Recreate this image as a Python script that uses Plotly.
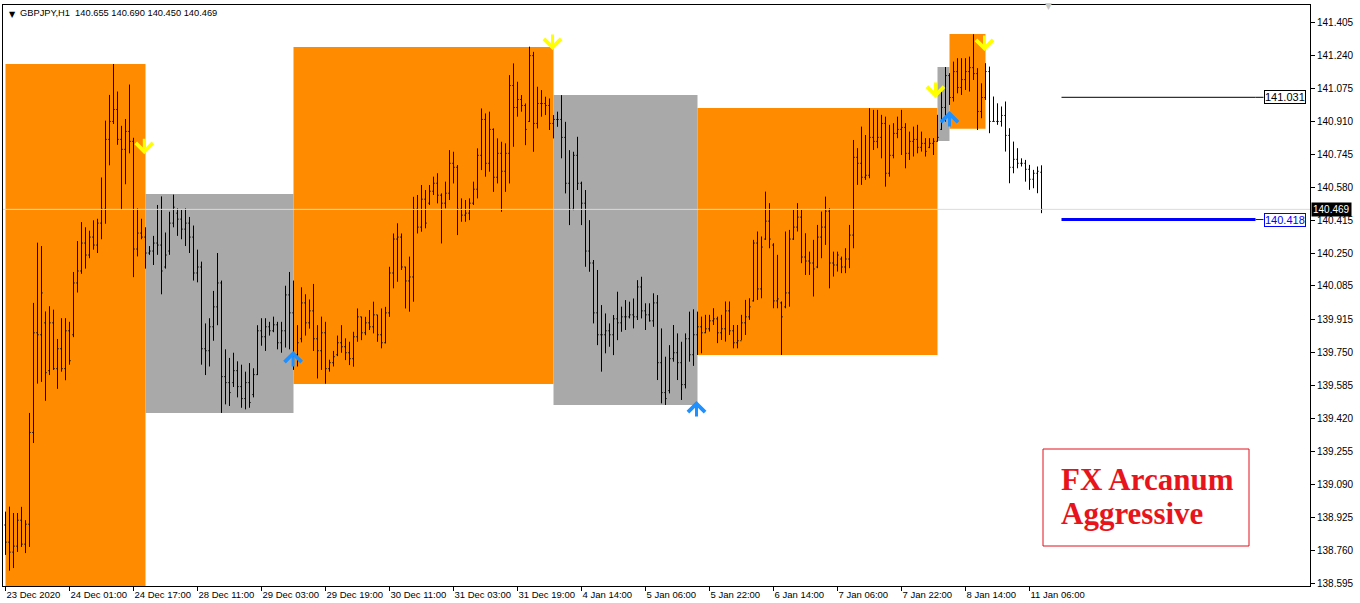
import plotly.graph_objects as go

# ---------------- data ----------------
symbol_label = "GBPJPY,H1"

open_ = [
    138.886, 138.80, 138.75, 138.78, 138.91, 138.79, 138.89, 139.35, 139.85, 139.84,
    139.90, 139.66, 139.90, 139.67, 139.77, 139.67, 139.86, 139.84, 140.10, 140.16,
    140.30, 140.24, 140.33, 140.29, 140.40, 140.47, 140.82, 140.91, 140.97, 140.82,
    140.77, 140.86, 140.81, 140.27, 140.35, 140.33, 140.25, 140.26, 140.30, 140.29,
    140.18, 140.26, 140.40, 140.45, 140.42, 140.37, 140.40, 140.33, 140.15, 140.18,
    139.77, 139.76, 139.88, 139.98, 140.10, 139.63, 139.60, 139.60, 139.66, 139.58,
    139.52, 139.60, 139.54, 139.64, 139.86, 139.83, 139.88, 139.86, 139.89, 139.80,
    139.86, 140.04, 139.95, 139.74, 139.82, 140.00, 139.90, 139.96, 139.82, 139.76,
    139.85, 139.67, 139.70, 139.74, 139.80, 139.78, 139.75, 139.72, 139.83, 139.93,
    139.85, 139.90, 139.88, 139.94, 139.84, 139.80, 139.95, 140.15, 140.32, 140.33,
    140.18, 140.11, 140.13, 140.47, 140.38, 140.52, 140.50, 140.56, 140.60, 140.54,
    140.50, 140.55, 140.70, 140.68, 140.47, 140.44, 140.45, 140.50, 140.57, 140.74,
    140.92, 140.70, 140.87, 140.63, 140.75, 140.66, 140.75, 141.09, 140.98, 141.02,
    140.99, 140.91, 141.24, 140.90, 141.00, 141.00, 140.99, 140.90, 140.92, 140.92,
    140.83, 140.60, 140.47, 140.74, 140.60, 140.50, 140.26, 140.20, 139.95, 139.84,
    139.84, 139.86, 139.84, 139.92, 139.90, 139.93, 139.93, 139.94, 139.93, 140.08,
    139.96, 139.94, 139.91, 140.00, 139.70, 139.55, 139.56, 139.72, 139.75, 139.70,
    139.59, 139.82, 139.74, 139.84, 139.88, 139.85, 139.87, 139.91, 139.92, 139.85,
    139.87, 139.96, 139.86, 139.80, 139.81, 139.90, 139.93, 140.01, 140.30, 140.07,
    140.32, 140.41, 140.29, 140.01, 140.00, 139.98, 140.05, 140.32, 140.38, 140.43,
    140.23, 140.21, 140.20, 140.18, 140.33, 140.38, 140.46, 140.20, 140.19, 140.22,
    140.18, 140.22, 140.34, 140.73, 140.70, 140.63, 140.64, 140.83, 140.81, 140.83,
    140.90, 140.65, 140.74, 140.85, 140.87, 140.88, 140.75, 140.81, 140.82, 140.78,
    140.80, 140.78, 140.80, 140.81, 140.87, 140.98, 141.14, 141.03, 141.16, 141.08,
    141.12, 141.16, 141.18, 141.15, 140.96, 141.03, 141.16, 140.91, 140.91, 140.91,
    140.94, 140.84, 140.68, 140.72, 140.70, 140.70, 140.67, 140.62, 140.65, 140.655,
]

high = [
    138.953, 138.978, 138.946, 138.946, 138.977, 138.910, 139.448, 140.000, 140.302, 140.285,
    139.957, 139.983, 139.966, 139.819, 139.923, 139.923, 139.905, 140.155, 140.310, 140.405,
    140.379, 140.362, 140.414, 140.422, 140.629, 140.914, 141.043, 141.198, 141.060, 140.888,
    140.922, 141.095, 140.828, 140.474, 140.422, 140.379, 140.285, 140.336, 140.491, 140.534,
    140.353, 140.457, 140.543, 140.474, 140.466, 140.474, 140.431, 140.388, 140.267, 140.207,
    139.897, 139.923, 140.060, 140.250, 140.112, 139.767, 139.724, 139.750, 139.707, 139.690,
    139.655, 139.698, 139.672, 139.888, 139.923, 139.923, 139.905, 139.931, 139.905, 139.905,
    140.086, 140.155, 140.112, 139.888, 140.078, 140.043, 140.017, 140.095, 139.888, 139.931,
    139.905, 139.715, 139.759, 139.836, 139.888, 139.822, 139.805, 139.855, 139.972, 139.930,
    139.930, 139.964, 140.006, 139.939, 139.972, 139.980, 140.181, 140.348, 140.399, 140.348,
    140.181, 140.232, 140.532, 140.541, 140.591, 140.566, 140.591, 140.633, 140.650, 140.549,
    140.608, 140.766, 140.758, 140.691, 140.524, 140.516, 140.524, 140.608, 140.775, 140.975,
    140.950, 140.959, 140.875, 140.825, 140.808, 140.800, 141.142, 141.201, 141.109, 141.042,
    141.000, 141.285, 141.259, 141.084, 141.067, 141.034, 141.025, 140.942, 140.959, 141.042,
    140.908, 140.766, 140.758, 140.833, 140.608, 140.566, 140.415, 140.215, 140.165, 139.989,
    139.947, 139.897, 139.939, 140.056, 139.981, 140.014, 140.006, 140.022, 140.114, 140.131,
    139.998, 139.998, 140.048, 140.039, 139.872, 139.730, 139.788, 139.889, 139.847, 139.805,
    139.847, 139.956, 139.968, 139.956, 139.931, 139.940, 139.940, 139.973, 139.931, 139.940,
    140.007, 140.007, 139.889, 139.889, 139.940, 140.015, 140.023, 140.316, 140.358, 140.333,
    140.558, 140.500, 140.299, 140.241, 140.007, 140.358, 140.366, 140.466, 140.500, 140.466,
    140.349, 140.257, 140.316, 140.391, 140.458, 140.533, 140.475, 140.257, 140.257, 140.232,
    140.274, 140.391, 140.817, 140.776, 140.884, 140.842, 140.976, 140.968, 140.968, 140.943,
    140.934, 140.893, 140.901, 140.934, 140.968, 140.901, 140.859, 140.884, 140.893, 140.859,
    140.826, 140.826, 140.826, 140.943, 141.060, 141.183, 141.152, 141.210, 141.227, 141.227,
    141.227, 141.235, 141.347, 141.177, 141.101, 141.202, 141.185, 141.035, 141.001, 140.985,
    141.010, 140.876, 140.809, 140.776, 140.725, 140.717, 140.692, 140.667, 140.684, 140.690,
]

low = [
    138.736, 138.657, 138.670, 138.751, 138.776, 138.745, 138.776, 139.297, 139.595, 139.604,
    139.509, 139.638, 139.664, 139.569, 139.655, 139.612, 139.690, 139.828, 140.052, 140.146,
    140.172, 140.224, 140.267, 140.250, 140.319, 140.397, 140.690, 140.897, 140.793, 140.466,
    140.595, 140.750, 140.129, 140.233, 140.319, 140.172, 140.241, 140.190, 140.241, 140.043,
    140.172, 140.241, 140.379, 140.336, 140.319, 140.285, 140.250, 140.112, 140.103, 139.690,
    139.638, 139.681, 139.810, 139.888, 139.448, 139.491, 139.483, 139.578, 139.526, 139.474,
    139.466, 139.474, 139.526, 139.638, 139.785, 139.759, 139.836, 139.853, 139.767, 139.750,
    139.776, 139.767, 139.664, 139.681, 139.802, 139.836, 139.871, 139.759, 139.621, 139.664,
    139.595, 139.655, 139.681, 139.733, 139.750, 139.713, 139.688, 139.680, 139.805, 139.813,
    139.838, 139.864, 139.847, 139.805, 139.772, 139.797, 139.930, 140.073, 140.106, 140.165,
    139.972, 139.956, 140.006, 140.348, 140.357, 140.374, 140.491, 140.541, 140.499, 140.298,
    140.474, 140.516, 140.599, 140.340, 140.407, 140.407, 140.415, 140.491, 140.524, 140.666,
    140.633, 140.658, 140.557, 140.599, 140.457, 140.557, 140.599, 140.783, 140.934, 140.959,
    140.791, 140.908, 140.758, 140.875, 140.934, 140.942, 140.867, 140.825, 140.883, 140.725,
    140.549, 140.390, 140.465, 140.566, 140.390, 140.181, 140.156, 139.897, 139.788, 139.655,
    139.747, 139.780, 139.738, 139.813, 139.855, 139.864, 139.922, 139.872, 139.914, 139.922,
    139.864, 139.906, 139.880, 139.613, 139.496, 139.488, 139.546, 139.705, 139.613, 139.513,
    139.571, 139.705, 139.684, 139.739, 139.747, 139.848, 139.856, 139.889, 139.798, 139.814,
    139.806, 139.839, 139.772, 139.772, 139.814, 139.839, 139.915, 140.007, 140.015, 140.023,
    140.316, 140.274, 139.973, 139.973, 139.739, 139.973, 139.981, 140.316, 140.358, 140.199,
    140.140, 140.140, 140.032, 140.174, 140.224, 140.291, 140.073, 140.132, 140.157, 140.149,
    140.149, 140.174, 140.274, 140.592, 140.592, 140.617, 140.625, 140.767, 140.776, 140.725,
    140.583, 140.633, 140.725, 140.826, 140.742, 140.675, 140.717, 140.734, 140.750, 140.759,
    140.734, 140.776, 140.742, 140.809, 140.867, 140.909, 140.993, 141.010, 141.051, 141.043,
    141.068, 141.060, 141.118, 140.867, 140.926, 141.018, 140.851, 140.909, 140.893, 140.884,
    140.759, 140.600, 140.650, 140.675, 140.684, 140.608, 140.567, 140.575, 140.550, 140.450,
]

close = [
    138.80, 138.75, 138.78, 138.91, 138.79, 138.89, 139.35, 139.85, 139.84, 140.05,
    139.65, 139.90, 139.67, 139.77, 139.67, 139.86, 139.71, 140.10, 140.16, 140.30,
    140.24, 140.33, 140.29, 140.40, 140.47, 140.82, 140.91, 140.97, 140.82, 140.77,
    140.86, 140.81, 140.27, 140.35, 140.33, 140.25, 140.26, 140.30, 140.29, 140.16,
    140.24, 140.40, 140.48, 140.42, 140.37, 140.40, 140.33, 140.15, 140.18, 139.77,
    139.76, 139.88, 139.98, 140.10, 139.63, 139.60, 139.55, 139.66, 139.58, 139.52,
    139.60, 139.50, 139.64, 139.86, 139.83, 139.88, 139.86, 139.89, 139.80, 139.86,
    140.04, 139.95, 139.74, 139.80, 140.00, 139.90, 139.96, 139.82, 139.76, 139.85,
    139.67, 139.70, 139.73, 139.80, 139.78, 139.75, 139.72, 139.83, 139.93, 139.85,
    139.90, 139.88, 139.94, 139.84, 139.80, 139.95, 140.15, 140.32, 140.33, 140.18,
    140.11, 140.13, 140.47, 140.38, 140.52, 140.40, 140.56, 140.60, 140.54, 140.50,
    140.55, 140.70, 140.68, 140.47, 140.44, 140.45, 140.50, 140.57, 140.74, 140.92,
    140.70, 140.87, 140.63, 140.75, 140.66, 140.75, 141.09, 140.98, 141.02, 140.99,
    140.87, 141.24, 140.90, 141.00, 141.00, 140.99, 140.90, 140.92, 140.92, 140.83,
    140.60, 140.47, 140.74, 140.60, 140.50, 140.26, 140.20, 139.95, 139.84, 139.84,
    139.86, 139.84, 139.92, 139.90, 139.93, 139.93, 139.94, 139.93, 140.08, 139.96,
    139.94, 139.91, 140.00, 139.70, 139.55, 139.52, 139.72, 139.75, 139.70, 139.59,
    139.82, 139.74, 139.84, 139.88, 139.85, 139.87, 139.91, 139.92, 139.85, 139.87,
    139.96, 139.86, 139.80, 139.81, 139.90, 139.93, 139.98, 140.30, 140.07, 140.28,
    140.41, 140.32, 140.01, 140.02, 139.93, 140.05, 140.32, 140.38, 140.43, 140.23,
    140.21, 140.20, 140.17, 140.33, 140.38, 140.46, 140.20, 140.19, 140.24, 140.18,
    140.22, 140.34, 140.73, 140.70, 140.63, 140.64, 140.83, 140.81, 140.83, 140.90,
    140.65, 140.74, 140.85, 140.87, 140.88, 140.75, 140.81, 140.82, 140.78, 140.80,
    140.76, 140.80, 140.81, 140.83, 140.98, 141.14, 141.03, 141.16, 141.08, 141.12,
    141.16, 141.18, 141.15, 140.96, 141.03, 141.16, 140.91, 140.91, 140.91, 140.94,
    140.84, 140.68, 140.72, 140.70, 140.70, 140.67, 140.62, 140.65, 140.66, 140.469,
]

# x-axis time labels (one every 16 hourly bars)
time_labels = [
    "23 Dec 2020", "24 Dec 01:00", "24 Dec 17:00", "28 Dec 11:00", "29 Dec 03:00",
    "29 Dec 19:00", "30 Dec 11:00", "31 Dec 03:00", "31 Dec 19:00", "4 Jan 14:00",
    "5 Jan 06:00", "5 Jan 22:00", "6 Jan 14:00", "7 Jan 06:00", "7 Jan 22:00",
    "8 Jan 14:00", "11 Jan 06:00",
]
label_step = 16

# price scale tick values as printed on the terminal's axis
price_ticks = [
    138.595, 138.760, 138.925, 139.090, 139.255, 139.420, 139.585, 139.750, 139.915,
    140.085, 140.250, 140.415, 140.580, 140.745, 140.910, 141.075, 141.240, 141.405,
]

# indicator zones (bar index start/end, price top/bottom)
zone_start = [0, 35, 72, 137, 173, 233, 236]
zone_end = [35, 72, 137, 173, 233, 236, 245]
zone_top = [141.198, 140.546, 141.283, 141.042, 140.977, 141.183, 141.348]
zone_bottom = [138.40, 139.448, 139.593, 139.488, 139.738, 140.812, 140.873]
zone_kind = ["up", "down", "up", "down", "up", "down", "up"]

# signal arrows (bar index, price at arrow tip)
sell_x = [34.7, 136.75, 232.5, 244.75]
sell_tip = [140.746, 141.268, 141.028, 141.263]
buy_x = [71.9, 172.75, 236.0]
buy_tip = [139.759, 139.508, 140.962]

# horizontal levels
level_values = [141.031, 140.418]
level_colors = ["#000000", "#0000FF"]
level_widths = [1, 3]
level_start = 264
level_end = 312.5

# ---------------- figure ----------------
n = len(close)
xs = list(range(n))
ZONE_COLORS = {"up": "#FF8C00", "down": "#A9A9A9"}
FONT = "Liberation Sans"

fig = go.Figure()

shapes = []
for s, e, t, b, k in zip(zone_start, zone_end, zone_top, zone_bottom, zone_kind):
    shapes.append(dict(type="rect", xref="x", yref="y", x0=s, x1=e, y0=b, y1=t,
                       fillcolor=ZONE_COLORS[k], line=dict(width=0), layer="below"))

# bid line
bid = close[-1]
fig.add_trace(go.Scatter(x=[-1, n + 70], y=[bid, bid], mode="lines",
                         line=dict(color="#DCDCDC", width=1), hoverinfo="skip",
                         showlegend=False))

fig.add_trace(go.Ohlc(x=xs, open=open_, high=high, low=low, close=close,
                      increasing=dict(line=dict(color="black", width=1)),
                      decreasing=dict(line=dict(color="black", width=1)),
                      tickwidth=0.3, hoverinfo="skip", showlegend=False))

# levels
for v, c, w in zip(level_values, level_colors, level_widths):
    fig.add_trace(go.Scatter(x=[level_start, level_end], y=[v, v],
                             mode="lines", line=dict(color=c, width=w),
                             hoverinfo="skip", showlegend=False))
    fig.add_trace(go.Scatter(x=[level_end, level_end + 2], y=[v, v],
                             mode="lines", line=dict(color=c, width=1),
                             hoverinfo="skip", showlegend=False))
for v, c in zip(level_values, level_colors):
    fig.add_annotation(x=level_end + 2, y=v, xref="x", yref="y", text=f"{v:.3f}",
                       showarrow=False, xanchor="left", yanchor="middle",
                       font=dict(family=FONT, size=11, color=c),
                       bgcolor="white", bordercolor=c, borderwidth=1, borderpad=0)

# arrows (thick chevron arrows like the terminal's)
for xv, yv in zip(sell_x, sell_tip):
    fig.add_annotation(x=xv, y=yv, xref="x", yref="y", text="", showarrow=True,
                       ax=0, ay=-17, arrowhead=4, arrowsize=1.1, arrowwidth=3,
                       arrowcolor="#FFFF00", standoff=0)
for xv, yv in zip(buy_x, buy_tip):
    fig.add_annotation(x=xv, y=yv, xref="x", yref="y", text="", showarrow=True,
                       ax=0, ay=17, arrowhead=4, arrowsize=1.1, arrowwidth=3,
                       arrowcolor="#1E90FF", standoff=0)

# bid label on axis
fig.add_annotation(x=1, y=bid, xref="paper", yref="y", text=f"{bid:.3f}",
                   showarrow=False, xanchor="left", yanchor="middle", xshift=1,
                   font=dict(family=FONT, size=10, color="white"),
                   bgcolor="black", borderpad=1)

# header
fig.add_annotation(x=0, y=1, xref="paper", yref="paper", text="▼", showarrow=False,
                   xanchor="left", yanchor="top", xshift=4, yshift=-3,
                   font=dict(family="DejaVu Sans", size=8, color="black"))
header = f"{symbol_label}  {open_[-1]:.3f} {high[-1]:.3f} {low[-1]:.3f} {close[-1]:.3f}"
fig.add_annotation(x=0, y=1, xref="paper", yref="paper", text=header, showarrow=False,
                   xanchor="left", yanchor="top", xshift=15, yshift=-1,
                   font=dict(family=FONT, size=9.3, color="black"))

# shift marker
fig.add_annotation(x=(1048 - 3) / 1307, y=1, xref="paper", yref="paper", text="▼",
                   showarrow=False, xanchor="center", yanchor="middle", yshift=-1,
                   font=dict(family="DejaVu Sans", size=9, color="#C8C8C8"))

# label box
shapes.append(dict(type="rect", xref="paper", yref="paper",
                   x0=(1043 - 3) / 1307, x1=(1249 - 3) / 1307,
                   y0=(586 - 546) / 581, y1=(586 - 449) / 581,
                   line=dict(color="#E0101A", width=1), fillcolor="white", layer="above"))
for txt, yc in (("FX Arcanum", 479), ("Aggressive", 513)):
    fig.add_annotation(x=(1059 - 3) / 1307, y=(586 - yc) / 581, xref="paper", yref="paper",
                       text=f"<b>{txt}</b>", showarrow=False, xanchor="left", yanchor="middle",
                       font=dict(family="Liberation Serif", size=31, color="#E8141C"))

fig.update_layout(
    width=1360, height=603,
    margin=dict(l=3, r=50, t=5, b=17, autoexpand=False),
    paper_bgcolor="white", plot_bgcolor="white",
    shapes=shapes,
    showlegend=False,
    xaxis=dict(range=[-0.625, 326.125], showgrid=False, zeroline=False, automargin=False,
               rangeslider=dict(visible=False),
               tickmode="array", tickvals=list(range(0, len(time_labels) * label_step, label_step)),
               ticktext=time_labels, ticks="outside", ticklen=4, tickcolor="black",
               ticklabelposition="outside right", tickangle=0,
               tickfont=dict(family=FONT, size=9.5, color="black"),
               showline=True, linecolor="black", linewidth=1, mirror=True),
    yaxis=dict(range=[138.580, 141.494], side="right", showgrid=False, zeroline=False,
               automargin=False,
               tickmode="array", tickvals=price_ticks,
               ticktext=[f"{v:.3f}" for v in price_ticks],
               ticks="outside", ticklen=4, tickcolor="black",
               tickfont=dict(family=FONT, size=10, color="black"),
               showline=True, linecolor="black", linewidth=1, mirror=True),
)

fig.write_html("out.html", config={"displayModeBar": False},
               post_script="document.body.style.margin='0';document.body.style.overflow='hidden';")
